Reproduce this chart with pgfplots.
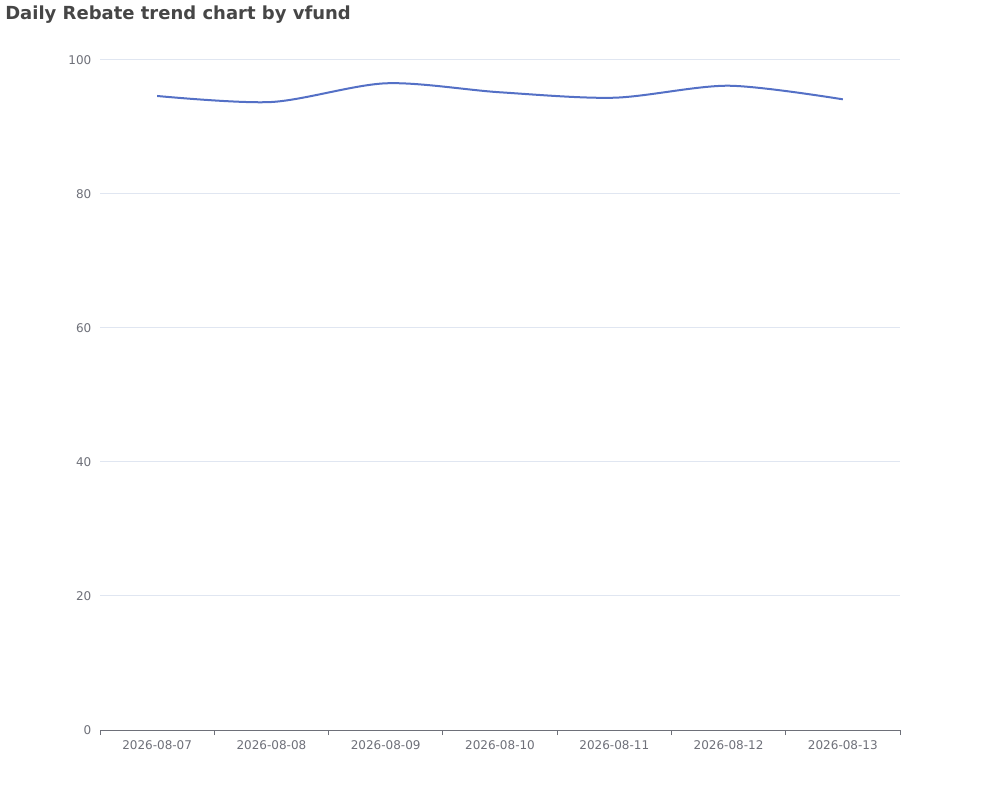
\documentclass[border=0pt]{standalone}
\usepackage{pgfplots}
\pgfplotsset{compat=1.18}
\usepackage{fontspec}
\setmainfont{DejaVu Sans}
\definecolor{linec}{HTML}{5470C6}
\definecolor{gridc}{HTML}{E0E6F1}
\definecolor{axisc}{HTML}{6E7079}
\definecolor{titlec}{HTML}{464646}
\begin{document}
\begin{tikzpicture}[x=0.75pt,y=0.75pt]
\path[fill=white] (0,0) rectangle (1000,800);
\node[anchor=base west, font=\fontsize{13.5}{16}\selectfont\bfseries, text=titlec, inner sep=0] at (5,780) {Daily Rebate trend chart by vfund};
\begin{axis}[at={(75pt,52.5pt)}, anchor=south west, scale only axis,
  width=600pt, height=502.5pt,
  xmin=-0.5, xmax=6.5, ymin=0, ymax=100,
  xtick={0,...,6},
  xticklabels={2026-08-07,2026-08-08,2026-08-09,2026-08-10,2026-08-11,2026-08-12,2026-08-13},
  ytick={20,40,...,100},
  extra y ticks={0}, extra y tick style={grid=none},
  axis line style={draw=none},
  ymajorgrids, grid style={gridc, line width=0.75pt},
  major tick length=0,
  xtick pos=lower, ytick pos=left,
  tick style={axisc, line width=0.7pt},
  extra x ticks={-0.5,0.5,...,6.5}, extra x tick labels={},
  extra x tick style={major tick length=3.75pt, tick align=outside},
  tick label style={font=\fontsize{9}{11}\selectfont, text=axisc},
  yticklabel style={xshift=-3pt},
  xticklabel style={yshift=-4.5pt},
  /pgf/number format/assume math mode=true,
  clip=false]
\addplot[linec, line width=1.5pt, smooth, tension=0.5] coordinates {
(0,94.63) (1,93.73) (2,96.52) (3,95.18) (4,94.37) (5,96.16) (6,94.13)};
\draw[axisc, line width=0.7pt] (axis cs:-0.5,0) -- (axis cs:6.5,0);
\end{axis}
\end{tikzpicture}
\end{document}
